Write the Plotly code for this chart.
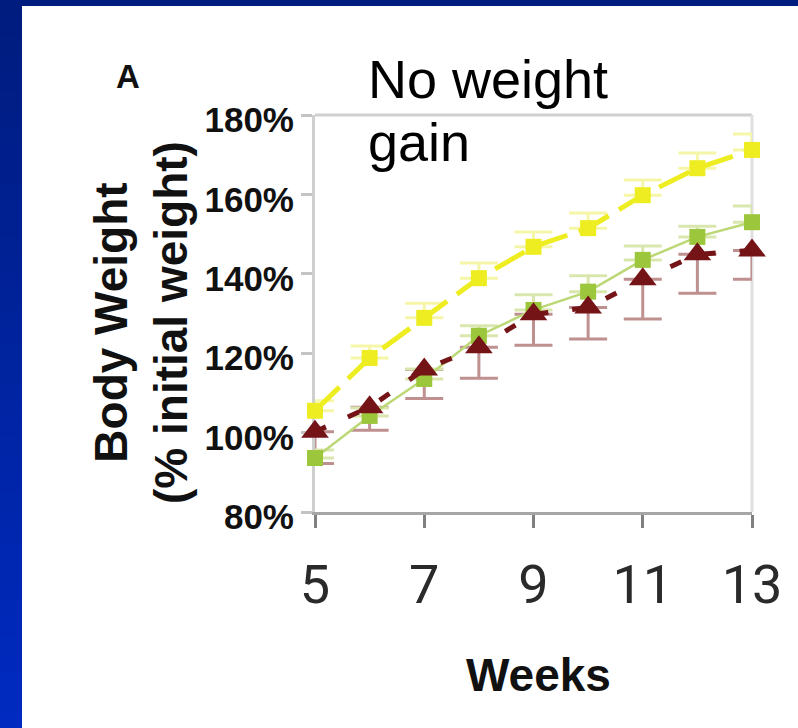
import plotly.graph_objects as go

# ---------------- data ----------------
weeks = [5, 6, 7, 8, 9, 10, 11, 12, 13]
yellow_vals = [105.5, 118.8, 128.9, 138.9, 146.8, 151.5, 159.8, 166.6, 171.2]
yellow_err = [2.5, 3.0, 3.7, 3.8, 3.7, 3.8, 3.8, 3.8, 4.0]
green_vals = [93.6, 104.2, 113.5, 124.4, 130.9, 135.5, 143.5, 149.3, 153.0]
green_err = [2.0, 2.0, 2.5, 2.5, 3.8, 4.0, 3.5, 2.7, 4.1]
red_vals = [100.2, 106.4, 115.9, 121.5, 129.8, 131.5, 138.6, 144.9, 145.9]
red_err = [8.0, 5.8, 7.3, 7.8, 7.8, 7.9, 10.0, 9.8, 7.3]
x_tickvals = [5, 7, 9, 11, 13]
x_ticktext = ["5", "7", "9", "11", "13"]
y_tickvals = [80, 100, 120, 140, 160, 180]
y_ticktext = ["80%", "100%", "120%", "140%", "160%", "180%"]

# ---------------- geometry ----------------
W, H = 798, 728
L, R, T, B = 315, 46, 115, 216
PW, PH = W - L - R, H - T - B


def px_x(px):
    return (px - L) / PW


def px_y(py):
    return (H - B - py) / PH


YELLOW = "#EDED22"
GREEN = "#9CC63B"
GREEN_LINE = "#BCD875"
RED = "#741417"

fig = go.Figure()

# red error bars (drawn beneath everything)
fig.add_trace(go.Scatter(
    x=weeks, y=red_vals, mode="markers",
    marker=dict(color="rgba(0,0,0,0)", size=1),
    error_y=dict(type="data", symmetric=False, array=[0] * len(red_err),
                 arrayminus=red_err, color="#BE9090", thickness=3, width=19),
    cliponaxis=False, hoverinfo="skip"))

# green series
fig.add_trace(go.Scatter(
    x=weeks, y=green_vals, mode="lines+markers",
    line=dict(color=GREEN_LINE, width=2.5),
    marker=dict(symbol="square", size=16, color=GREEN),
    error_y=dict(type="data", symmetric=False, array=green_err,
                 arrayminus=[0] * len(green_err), color="#D9E7AE",
                 thickness=3, width=19),
    cliponaxis=False))

# yellow series
fig.add_trace(go.Scatter(
    x=weeks, y=yellow_vals, mode="lines+markers",
    line=dict(color=YELLOW, width=5, dash="34px,12px"),
    marker=dict(symbol="square", size=16, color=YELLOW),
    error_y=dict(type="data", symmetric=False, array=yellow_err,
                 arrayminus=[0] * len(yellow_err), color="#F6F6A8",
                 thickness=3, width=19),
    cliponaxis=False))

# red series
fig.add_trace(go.Scatter(
    x=weeks, y=red_vals, mode="lines+markers",
    line=dict(color=RED, width=5, dash="12px,24px"),
    marker=dict(symbol="triangle-up", size=24, color=RED),
    cliponaxis=False))

shapes = []
# blue frame: left gradient band and top band
n = 40
c0 = (0, 28, 126)
c1 = (0, 42, 192)
for i in range(n):
    t = i / (n - 1)
    col = "rgb(%d,%d,%d)" % tuple(round(a + (b - a) * t) for a, b in zip(c0, c1))
    y0 = i * H / n
    y1 = (i + 1) * H / n + 1
    shapes.append(dict(type="rect", xref="paper", yref="paper",
                       x0=px_x(0), x1=px_x(22), y0=px_y(y1), y1=px_y(y0),
                       fillcolor=col, line=dict(width=0), layer="above"))
shapes.append(dict(type="rect", xref="paper", yref="paper",
                   x0=px_x(0), x1=px_x(W), y0=px_y(6), y1=px_y(0),
                   fillcolor="#001C7E", line=dict(width=0), layer="above"))
# plot-area frame (top and right)
shapes.append(dict(type="line", xref="paper", yref="paper", x0=0, x1=1, y0=1, y1=1,
                   line=dict(color="#D0D0D0", width=3), layer="below"))
shapes.append(dict(type="line", xref="paper", yref="paper", x0=1, x1=1, y0=0, y1=1,
                   line=dict(color="#E0E0E0", width=3), layer="below"))

BOLD = "Liberation Sans, Arial, sans-serif"
annotations = [
    dict(text="<b>A</b>", x=px_x(128), y=px_y(77), xref="paper", yref="paper",
         xanchor="center", yanchor="middle",
         showarrow=False, font=dict(family=BOLD, size=33, color="#111")),
    dict(text="No weight", x=px_x(366), y=px_y(79), xref="paper", yref="paper",
         xanchor="left", yanchor="middle", showarrow=False,
         font=dict(family=BOLD, size=54, color="#000")),
    dict(text="gain", x=px_x(366), y=px_y(142), xref="paper", yref="paper",
         xanchor="left", yanchor="middle", showarrow=False,
         font=dict(family=BOLD, size=54, color="#000")),
    dict(text="<b>Body Weight<br>(% initial weight)</b>", x=px_x(141), y=px_y(323),
         xref="paper", yref="paper", textangle=-90, showarrow=False,
         xanchor="center", yanchor="middle",
         font=dict(family=BOLD, size=46, color="#111")),
    dict(text="<b>Weeks</b>", x=px_x(538), y=px_y(675), xref="paper", yref="paper",
         xanchor="center", yanchor="middle",
         showarrow=False, font=dict(family=BOLD, size=46, color="#111")),
]

fig.update_layout(
    width=W, height=H,
    margin=dict(l=L, r=R, t=T, b=B, pad=0),
    paper_bgcolor="white", plot_bgcolor="white",
    showlegend=False,
    shapes=shapes,
    annotations=annotations,
    xaxis=dict(range=[5, 13], tickvals=x_tickvals, ticktext=x_ticktext,
               showgrid=False, zeroline=False,
               showline=True, linecolor="#A6A6A6", linewidth=3,
               ticks="outside", ticklen=13, tickwidth=3, tickcolor="#808080",
               tickfont=dict(family="Liberation Sans Narrow, Roboto, sans-serif",
                             size=54, color="#2a2a2a"),
               ticklabelstandoff=10, layer="below traces"),
    yaxis=dict(range=[80, 180], tickvals=y_tickvals, ticktext=y_ticktext,
               showgrid=False, zeroline=False,
               showline=True, linecolor="#CFCFCF", linewidth=3,
               ticks="outside", ticklen=11, tickwidth=3, tickcolor="#C4C4C4",
               tickfont=dict(family=BOLD, size=35, color="#111", weight="bold"),
               ticklabelstandoff=0, ticklabelshift=5, layer="below traces"),
)

fig.write_html("out.html",
               config={"displayModeBar": False},
               post_script="document.body.style.margin='0px';"
                           "document.body.style.padding='0px';")
